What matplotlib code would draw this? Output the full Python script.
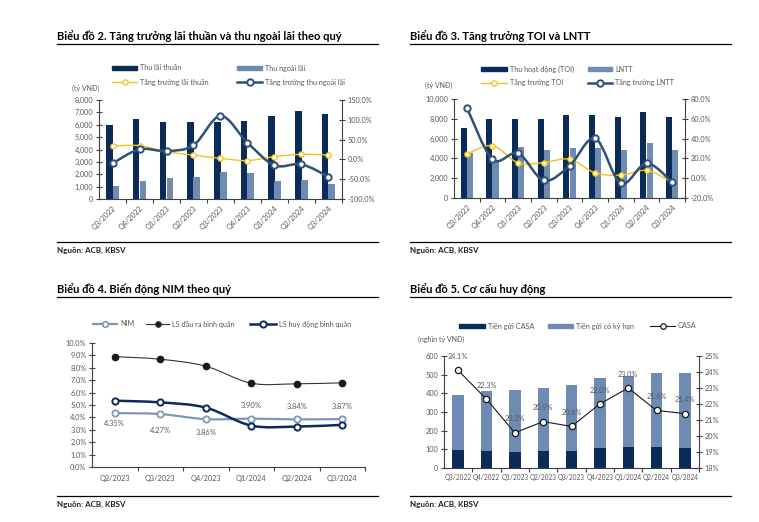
import numpy as np
import matplotlib
matplotlib.use('Agg')
import matplotlib.pyplot as plt
from matplotlib.path import Path
from matplotlib.patches import PathPatch, Rectangle
from matplotlib.lines import Line2D
from matplotlib.ticker import FuncFormatter, MultipleLocator

plt.rcParams['font.family'] = ['Lato', 'DejaVu Sans']

NAVY = '#0b2b59'
STEEL = '#6f8ab3'
YELLOW = '#f0c419'
LINEBLUE = '#2d5178'
NIMBLUE = '#7d97ba'
TXT = '#595959'
AXIS = '#404040'

# Bieu do 2 - lai thuan / thu ngoai lai (ty VND, %)
quarters9 = ['Q3/2022', 'Q4/2022', 'Q1/2023', 'Q2/2023', 'Q3/2023',
             'Q4/2023', 'Q1/2024', 'Q2/2024', 'Q3/2024']
net_interest = [6000, 6450, 6200, 6250, 6200, 6300, 6700, 7100, 6850]
non_interest = [1050, 1450, 1700, 1780, 2200, 2100, 1450, 1550, 1250]
net_interest_growth = [33.8, 34.7, 19.5, 11.0, 2.7, -3.0, 7.0, 12.8, 11.0]
non_interest_growth = [-10.0, 25.4, 21.0, 35.5, 109.6, 42.0, -15.0, -12.5, -43.6]

# Bieu do 3 - TOI / LNTT
toi = [7090, 7930, 7930, 8030, 8430, 8360, 8160, 8660, 8160]
pbt = [4500, 3800, 5150, 4820, 5020, 5020, 4850, 5590, 4820]
toi_growth = [24.5, 32.8, 15.5, 15.8, 19.1, 5.4, 3.1, 7.8, -4.0]
pbt_growth = [71.3, 19.1, 25.2, -2.3, 12.4, 40.2, -5.3, 15.1, -4.0]

# Bieu do 4 - NIM
quarters6 = ['Q2/2023', 'Q3/2023', 'Q4/2023', 'Q1/2024', 'Q2/2024', 'Q3/2024']
nim = [4.35, 4.27, 3.86, 3.90, 3.84, 3.87]
lending_rate = [8.90, 8.69, 8.13, 6.76, 6.71, 6.79]
funding_rate = [5.35, 5.21, 4.79, 3.34, 3.26, 3.40]

# Bieu do 5 - co cau huy dong (nghin ty VND, %)
casa_dep = [94, 92, 85, 90, 91, 106, 113, 110, 109]
term_dep = [295, 320, 335, 339, 352, 374, 378, 399, 400]
casa_ratio = [24.1, 22.3, 20.2, 20.9, 20.6, 22.0, 23.0, 21.6, 21.4]

W, H = 759, 522
fig = plt.figure(figsize=(W / 100, H / 100), dpi=100)


def fx(x):
    return x / W


def fy(y):
    return 1 - y / H


def smooth(ax, x, y, zorder=3, **kw):
    # excel-like smoothed line (catmull-rom as bezier)
    x = np.asarray(x, float)
    y = np.asarray(y, float)
    px = np.r_[x[0], x, x[-1]]
    py = np.r_[y[0], y, y[-1]]
    verts = [(x[0], y[0])]
    codes = [Path.MOVETO]
    for j in range(1, len(x)):
        c1 = (px[j] + (px[j + 1] - px[j - 1]) / 6, py[j] + (py[j + 1] - py[j - 1]) / 6)
        c2 = (px[j + 1] - (px[j + 2] - px[j]) / 6, py[j + 1] - (py[j + 2] - py[j]) / 6)
        verts += [c1, c2, (px[j + 1], py[j + 1])]
        codes += [Path.CURVE4] * 3
    ax.add_patch(PathPatch(Path(verts, codes), fill=False, zorder=zorder, **kw))


def frame(x0, x1, y_title, y_rule, y_src, title):
    fig.text(fx(x0), fy(y_title), title, fontsize=8, fontweight='bold',
             va='center', ha='left', color='black')
    fig.add_artist(Line2D([fx(x0), fx(x1)], [fy(y_rule)] * 2, color='black', lw=0.9))
    fig.add_artist(Line2D([fx(x0), fx(x1)], [fy(y_src)] * 2, color='black', lw=0.9))
    fig.text(fx(x0), fy(y_src + 8), 'Nguồn: ACB, KBSV', fontsize=5.8,
             fontweight='bold', va='center', ha='left', color='#222222')


def leg_rect(x0, x1, y, color, label):
    fig.add_artist(Rectangle((fx(x0), fy(y + 2)), fx(x1 - x0), 4 / H,
                             transform=fig.transFigure, color=color))
    fig.text(fx(x1 + 3), fy(y), label, fontsize=5.2, color=TXT, va='center', ha='left')


def leg_line(x0, x1, y, label, **kw):
    lw = kw.pop('lw', 1)
    color = kw.pop('color')
    fig.add_artist(Line2D([fx(x0), fx(x1)], [fy(y)] * 2, color=color, lw=lw))
    fig.add_artist(Line2D([fx((x0 + x1) / 2)], [fy(y)], marker='o', color=color, **kw))
    fig.text(fx(x1 + 3), fy(y), label, fontsize=5.2, color=TXT, va='center', ha='left')


def style_axes(ax, n, right_ax=None):
    for s in ['top', 'right']:
        ax.spines[s].set_visible(False)
    for s in ['left', 'bottom']:
        ax.spines[s].set_color(AXIS)
        ax.spines[s].set_linewidth(0.8)
    ax.tick_params(axis='y', direction='inout', length=4, width=0.8,
                   color=AXIS, labelcolor=TXT, labelsize=5.3, pad=2)
    ax.set_xlim(-0.5, n - 0.5)
    ax.set_xticks(range(n))
    ax.set_xticks(np.arange(0.5, n, 1), minor=True)
    ax.tick_params(axis='x', which='major', length=0, labelcolor=TXT, labelsize=5.3)
    ax.tick_params(axis='x', which='minor', length=3, width=0.8, color=AXIS, direction='out')
    if right_ax is not None:
        for s in ['top', 'left', 'bottom']:
            right_ax.spines[s].set_visible(False)
        right_ax.spines['right'].set_color(AXIS)
        right_ax.spines['right'].set_linewidth(0.8)
        right_ax.tick_params(axis='y', direction='inout', length=4, width=0.8,
                             color=AXIS, labelcolor=TXT, labelsize=5.3, pad=2)


thousands = FuncFormatter(lambda v, p: f'{v:,.0f}')
pct1 = FuncFormatter(lambda v, p: f'{v:.1f}%')
pct0 = FuncFormatter(lambda v, p: f'{v:.0f}%')
x9 = np.arange(len(quarters9))
bw = 0.24

# ---------------- Bieu do 2 ----------------
frame(57, 378, 36, 44, 242, 'Biểu đồ 2. Tăng trưởng lãi thuần và thu ngoài lãi theo quý')
ax1 = fig.add_axes([fx(99), fy(199), fx(342 - 99), 99 / H])
ax1b = ax1.twinx()
ax1.bar(x9 - bw / 2, net_interest, bw, color=NAVY, zorder=2)
ax1.bar(x9 + bw / 2, non_interest, bw, color=STEEL, zorder=2)
ax1.set_ylim(0, 8000)
ax1.yaxis.set_major_locator(MultipleLocator(1000))
ax1.yaxis.set_major_formatter(thousands)
ax1b.set_ylim(-100, 150)
ax1b.yaxis.set_major_locator(MultipleLocator(50))
ax1b.yaxis.set_major_formatter(pct1)
smooth(ax1b, x9, net_interest_growth, color=YELLOW, lw=1.0)
ax1b.plot(x9, net_interest_growth, 'o', ms=3.8, mfc='white', mec=YELLOW, mew=0.9, zorder=4)
smooth(ax1b, x9, non_interest_growth, color=LINEBLUE, lw=1.8, zorder=5)
ax1b.plot(x9, non_interest_growth, 'o', ms=4.6, mfc='white', mec=LINEBLUE, mew=1.4, zorder=6)
style_axes(ax1, 9, ax1b)
ax1.set_xticklabels(quarters9, rotation=45, ha='right', rotation_mode='anchor')
ax1.tick_params(axis='x', which='major', pad=4)
fig.text(fx(72), fy(88), '(tỷ VNĐ)', fontsize=5, color=TXT, va='center')
leg_rect(112, 137, 68, NAVY, 'Thu lãi thuần')
leg_rect(237, 262, 68, STEEL, 'Thu ngoài lãi')
leg_line(112, 137, 82, 'Tăng trưởng lãi thuần', color=YELLOW, lw=1, ms=3.8, mfc='white', mew=0.9)
leg_line(237, 262, 82, 'Tăng trưởng thu ngoài lãi', color=LINEBLUE, lw=1.8, ms=4.6, mfc='white', mew=1.4)

# ---------------- Bieu do 3 ----------------
frame(410, 731, 36, 44, 242, 'Biểu đồ 3. Tăng trưởng TOI và LNTT')
ax2 = fig.add_axes([fx(454), fy(198), fx(685 - 454), 99 / H])
ax2b = ax2.twinx()
ax2.bar(x9 - bw / 2, toi, bw, color=NAVY, zorder=2)
ax2.bar(x9 + bw / 2, pbt, bw, color=STEEL, zorder=2)
ax2.set_ylim(0, 10000)
ax2.yaxis.set_major_locator(MultipleLocator(2000))
ax2.yaxis.set_major_formatter(thousands)
ax2b.set_ylim(-20, 80)
ax2b.yaxis.set_major_locator(MultipleLocator(20))
ax2b.yaxis.set_major_formatter(pct1)
smooth(ax2b, x9, toi_growth, color=YELLOW, lw=1.0)
ax2b.plot(x9, toi_growth, 'o', ms=3.8, mfc='#fff3b0', mec=YELLOW, mew=0.9, zorder=4)
smooth(ax2b, x9, pbt_growth, color=LINEBLUE, lw=1.8, zorder=5)
ax2b.plot(x9, pbt_growth, 'o', ms=4.6, mfc='white', mec=LINEBLUE, mew=1.4, zorder=6)
style_axes(ax2, 9, ax2b)
ax2.set_xticklabels(quarters9, rotation=45, ha='right', rotation_mode='anchor')
ax2.tick_params(axis='x', which='major', pad=4)
fig.text(fx(425), fy(85), '(tỷ VNĐ)', fontsize=5, color=TXT, va='center')
leg_rect(481, 507, 69, NAVY, 'Thu hoạt động (TOI)')
leg_rect(588, 612, 69, STEEL, 'LNTT')
leg_line(481, 507, 83, 'Tăng trưởng TOI', color=YELLOW, lw=1, ms=3.8, mfc='white', mew=0.9)
leg_line(588, 612, 83, 'Tăng trưởng LNTT', color=LINEBLUE, lw=1.8, ms=4.6, mfc='white', mew=1.4)

# ---------------- Bieu do 4 ----------------
frame(57, 378, 289, 297, 496, 'Biểu đồ 4. Biến động NIM theo quý')
ax3 = fig.add_axes([fx(92), fy(467), fx(365 - 92), 124 / H])
x6 = np.arange(len(quarters6))
smooth(ax3, x6, nim, color=NIMBLUE, lw=1.6)
ax3.plot(x6, nim, 'o', ms=4.5, mfc='white', mec=NIMBLUE, mew=1.3, zorder=4)
smooth(ax3, x6, lending_rate, color='#333333', lw=0.8)
ax3.plot(x6, lending_rate, 'o', ms=4.5, color='#1a1a1a', zorder=4)
smooth(ax3, x6, funding_rate, color=NAVY, lw=1.8, zorder=5)
ax3.plot(x6, funding_rate, 'o', ms=4.5, mfc='white', mec=NAVY, mew=1.4, zorder=6)
ax3.set_ylim(0, 10)
ax3.yaxis.set_major_locator(MultipleLocator(1))
ax3.yaxis.set_major_formatter(pct1)
style_axes(ax3, 6)
ax3.set_xticklabels(quarters6)
ax3.tick_params(axis='x', which='major', pad=6)
nim_offsets = [-10, -16, -13, 13, 13, 13]
for i, v in enumerate(nim):
    ax3.annotate(f'{v:.2f}%', (x6[i], v), xytext=(0, nim_offsets[i] * 0.72),
                 textcoords='offset points', ha='center', va='center',
                 fontsize=5.4, color=TXT)
leg_line(93, 117, 324, 'NIM', color=NIMBLUE, lw=1.6, ms=4, mfc='white', mew=1.2)
leg_line(146, 169, 324, 'LS đầu ra bình quân', color='#333333', lw=0.8, ms=4, mfc='#1a1a1a', mew=0.8)
leg_line(250, 276, 324, 'LS huy động bình quân', color=NAVY, lw=1.8, ms=4.5, mfc='white', mew=1.4)

# ---------------- Bieu do 5 ----------------
frame(410, 731, 289, 297, 496, 'Biểu đồ 5. Cơ cấu huy động')
ax4 = fig.add_axes([fx(444), fy(468), fx(699 - 444), 112 / H])
ax4b = ax4.twinx()
ax4.bar(x9, casa_dep, 0.4, color=NAVY, zorder=2)
ax4.bar(x9, term_dep, 0.4, bottom=casa_dep, color=STEEL, zorder=2)
ax4.set_ylim(0, 600)
ax4.yaxis.set_major_locator(MultipleLocator(100))
ax4b.set_ylim(18, 25)
ax4b.yaxis.set_major_locator(MultipleLocator(1))
ax4b.yaxis.set_major_formatter(pct0)
ax4b.plot(x9, casa_ratio, '-', color='#1a1a1a', lw=0.8, zorder=4)
ax4b.plot(x9, casa_ratio, 'o', ms=4.5, mfc='white', mec='#1a1a1a', mew=0.9, zorder=5)
for i, v in enumerate(casa_ratio):
    ax4b.annotate(f'{v:.1f}%', (x9[i], v), xytext=(0, 10),
                  textcoords='offset points', ha='center', va='center',
                  fontsize=5.2, color=TXT)
style_axes(ax4, 9, ax4b)
ax4.set_xticklabels(quarters9)
ax4.tick_params(axis='x', which='major', pad=4, labelsize=4.7)
fig.text(fx(418), fy(339), '(nghìn tỷ VNĐ)', fontsize=5, color=TXT, va='center')
leg_rect(459, 485, 326, NAVY, 'Tiền gửi CASA')
leg_rect(548, 573, 326, STEEL, 'Tiền gửi có kỳ hạn')
leg_line(650, 675, 326, 'CASA', color='#1a1a1a', lw=0.8, ms=4, mfc='white', mew=0.9)

fig.savefig('out.png', dpi=100, facecolor='white')
